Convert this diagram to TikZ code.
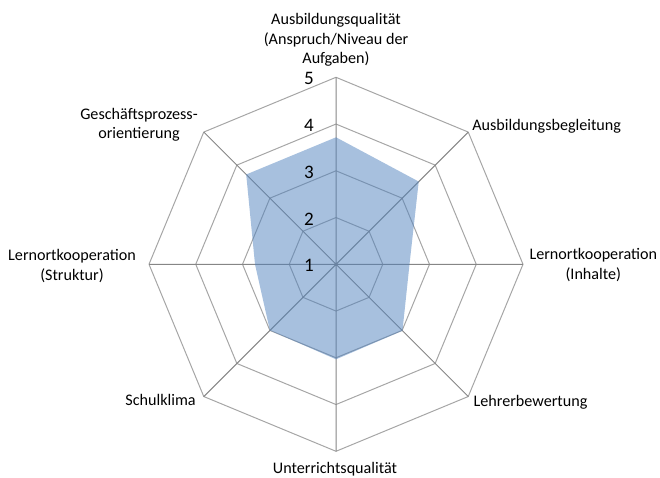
\documentclass[tikz,border=0pt]{standalone}
\usepackage{fontspec}
\setmainfont{Carlito}
\usetikzlibrary{calc}

\definecolor{gridgray}{RGB}{166,166,166}
\definecolor{axisgray}{RGB}{134,134,134}
\definecolor{seriesblue}{RGB}{79,129,189}

\tikzset{
  ring/.style={draw=gridgray, line width=0.75pt},
  spoke/.style={draw=axisgray, line width=0.75pt},
  catlabel/.style={inner sep=0pt, align=center, font=\fontsize{12.1}{14.8}\selectfont},
  ticklabel/.style={inner sep=0pt, anchor=east, font=\fontsize{14.3}{17}\selectfont}
}

\begin{document}
\begin{tikzpicture}[x=0.75pt, y=0.75pt, line join=round]
    \useasboundingbox (0,0) rectangle (660,478);
    \coordinate (O) at (336,213.7);

    \begin{scope}[shift={(O)}]
      % grid rings for the values 2 to 5
      \draw[ring] (90:46.75) -- (45:46.75) -- (0:46.75) -- (-45:46.75) -- (-90:46.75) -- (-135:46.75) -- (180:46.75) -- (135:46.75) -- cycle;
      \draw[ring] (90:93.5) -- (45:93.5) -- (0:93.5) -- (-45:93.5) -- (-90:93.5) -- (-135:93.5) -- (180:93.5) -- (135:93.5) -- cycle;
      \draw[ring] (90:140.25) -- (45:140.25) -- (0:140.25) -- (-45:140.25) -- (-90:140.25) -- (-135:140.25) -- (180:140.25) -- (135:140.25) -- cycle;
      \draw[ring] (90:187) -- (45:187) -- (0:187) -- (-45:187) -- (-90:187) -- (-135:187) -- (180:187) -- (135:187) -- cycle;

      % spokes
      \coordinate (vq) at (90:187);
      \coordinate (vb) at (45:187);
      \coordinate (vi) at (0:187);
      \coordinate (vl) at (-45:187);
      \coordinate (vu) at (-90:187);
      \coordinate (vk) at (-135:187);
      \coordinate (vs) at (180:187);
      \coordinate (vg) at (135:187);
      \draw[spoke] (O) -- (vq) (O) -- (vb) (O) -- (vi) (O) -- (vl)
                   (O) -- (vu) (O) -- (vk) (O) -- (vs) (O) -- (vg);

      % data
      \fill[seriesblue, opacity=0.5] (90:127) -- (45:117) -- (0:73.5) -- (-45:94) -- (-90:95) -- (-135:93.5) -- (180:81) -- (135:127) -- cycle;

      % axis values
      \node[ticklabel](t1) at (-22,-1.5) {1};
      \node[ticklabel](t2) at (-22,45.25) {2};
      \node[ticklabel](t3) at (-22,92) {3};
      \node[ticklabel](t4) at (-22,138.75) {4};
      \node[ticklabel](t5) at (-22,185.5) {5};
    \end{scope}

    \node[catlabel](qual) at (336,438) {Ausbildungsqualität\\(Anspruch/Niveau der\\Aufgaben)};
    \node[catlabel, anchor=west](begl) at (472,351.3) {Ausbildungsbegleitung};
    \node[catlabel](inh) at (593.3,212.8) {Lernortkooperation\\(Inhalte)};
    \node[catlabel, anchor=west](lehr) at (473.3,75.7) {Lehrerbewertung};
    \node[catlabel](unt) at (335,9) {Unterrichtsqualität};
    \node[catlabel, anchor=east](klima) at (196,78) {Schulklima};
    \node[catlabel](strukt) at (72,212) {Lernortkooperation\\(Struktur)};
    \node[catlabel](gpo) at (139,353.3) {Geschäftsprozess-\\orientierung};
\end{tikzpicture}
\end{document}
